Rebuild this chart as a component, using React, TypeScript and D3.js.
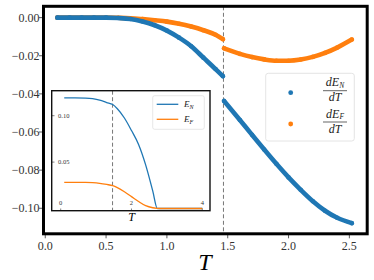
import * as d3 from "d3";
import { useEffect, useRef } from "react";

// main plot: derivatives, two branches split at the transition
const tLow = [0.1, 0.2, 0.3, 0.4, 0.5, 0.6, 0.7, 0.8, 0.9, 1.0, 1.1, 1.2, 1.3, 1.4, 1.46];
const dENLow = [0, 0, 0, 0, 0, -0.0002, -0.0007, -0.002, -0.004, -0.0068, -0.0105, -0.015, -0.021, -0.027, -0.0307];
const dEFLow = [0, 0, 0, 0, 0, -0.0001, -0.0003, -0.0008, -0.0014, -0.0021, -0.0032, -0.0047, -0.0066, -0.009, -0.0113];

const tHigh = [1.47, 1.6, 1.7, 1.8, 1.9, 2.0, 2.1, 2.2, 2.3, 2.4, 2.52];
const dENHigh = [-0.0437, -0.0537, -0.0615, -0.0692, -0.0767, -0.0838, -0.0903, -0.0963, -0.1013, -0.105, -0.1078];
const dEFHigh = [-0.0161, -0.019, -0.0207, -0.0219, -0.0226, -0.0226, -0.022, -0.0206, -0.0185, -0.0157, -0.0115];

const tc = 1.465;
const xTicks = [0, 0.5, 1.0, 1.5, 2.0, 2.5];
const yTicks = [0, -0.02, -0.04, -0.06, -0.08, -0.1];

// inset: energies
const tInset = [0.1, 0.4, 0.7, 0.9, 1.1, 1.3, 1.47, 1.6, 1.8, 2.0, 2.2, 2.4, 2.6, 2.73, 2.8, 3.0, 3.5, 4.0];
const eN = [0.1193, 0.1193, 0.119, 0.1183, 0.1168, 0.1142, 0.112, 0.1075, 0.0975, 0.084, 0.069, 0.047, 0.019, 0, 0, 0, 0, 0];
const eF = [0.0281, 0.0281, 0.0281, 0.0278, 0.0271, 0.0259, 0.0246, 0.0225, 0.018, 0.0128, 0.0075, 0.003, 0.0008, 0.0002, 0, 0, 0, 0];
const insetXTicks = [0, 2, 4];
const insetYTicks = [0.05, 0.1];

const blue = "#1f77b4";
const orange = "#ff7f0e";
const serif = "'Liberation Serif', 'DejaVu Serif', serif";

export default function App() {
  const svgRef = useRef<SVGSVGElement>(null);
  const width = 374;
  const height = 280;

  useEffect(() => {
    const svg = d3.select(svgRef.current).attr("width", width).attr("height", height);
    svg.selectAll("*").remove();

    const m = { left: 43.5, right: 367.2, top: 6.3, bottom: 233.8 };
    const x = d3.scaleLinear().domain([-0.021, 2.645]).range([42.7, 367]);
    const y = d3.scaleLinear().domain([0.0061, -0.1135]).range([6, 234]);

    svg.append("rect").attr("width", width).attr("height", height).attr("fill", "white");

    // dashed transition line
    svg.append("line")
      .attr("x1", x(tc)).attr("x2", x(tc))
      .attr("y1", m.top).attr("y2", m.bottom)
      .attr("stroke", "#777").attr("stroke-width", 1).attr("stroke-dasharray", "4 2.5");

    // series, dense markers drawn as a thick band
    const series = [
      { t: tLow, v: dEFLow, c: orange },
      { t: tHigh, v: dEFHigh, c: orange },
      { t: tLow, v: dENLow, c: blue },
      { t: tHigh, v: dENHigh, c: blue },
    ];
    const line = d3.line<[number, number]>()
      .x(d => x(d[0]))
      .y(d => y(d[1]))
      .curve(d3.curveMonotoneX);
    series.forEach(s => {
      const pts = s.t.map((t, i) => [t, s.v[i]] as [number, number]);
      svg.append("path")
        .attr("d", line(pts))
        .attr("fill", "none")
        .attr("stroke", s.c)
        .attr("stroke-width", 4.6)
        .attr("stroke-linecap", "round");
      svg.append("g").selectAll("circle")
        .data(pts)
        .enter()
        .append("circle")
        .attr("cx", d => x(d[0]))
        .attr("cy", d => y(d[1]))
        .attr("r", 2.3)
        .attr("fill", s.c);
    });

    // axes ticks + labels
    const ax = svg.append("g").attr("font-family", serif).attr("fill", "#333");
    xTicks.forEach(t => {
      ax.append("line").attr("x1", x(t)).attr("x2", x(t)).attr("y1", m.bottom).attr("y2", m.bottom + 4.5)
        .attr("stroke", "#333").attr("stroke-width", 0.8);
      ax.append("text").attr("x", x(t)).attr("y", 250).attr("text-anchor", "middle")
        .attr("font-size", 12).text(t.toFixed(1));
    });
    yTicks.forEach(v => {
      ax.append("line").attr("x1", m.left - 4.5).attr("x2", m.left).attr("y1", y(v)).attr("y2", y(v))
        .attr("stroke", "#333").attr("stroke-width", 0.8);
      ax.append("text").attr("x", 39.5).attr("y", y(v)).attr("dy", "0.35em").attr("text-anchor", "end")
        .attr("font-size", 12).text(v === 0 ? "0.00" : "\u2212" + Math.abs(v).toFixed(2));
    });
    svg.append("text").attr("x", 205).attr("y", 270).attr("text-anchor", "middle")
      .attr("font-family", serif).attr("font-style", "italic").attr("font-size", 24).text("T");

    // frame
    svg.append("rect")
      .attr("x", m.left).attr("y", m.top)
      .attr("width", m.right - m.left).attr("height", m.bottom - m.top)
      .attr("fill", "none").attr("stroke", "black").attr("stroke-width", 3);

    // legend
    const lg = svg.append("g");
    lg.append("rect").attr("x", 265.7).attr("y", 73.3).attr("width", 88.6).attr("height", 67.7).attr("rx", 2.5)
      .attr("fill", "white").attr("fill-opacity", 0.8).attr("stroke", "#ddd").attr("stroke-width", 0.8);
    [{ c: blue, sub: "N", cy: 92.7 }, { c: orange, sub: "F", cy: 124 }].forEach(e => {
      lg.append("circle").attr("cx", 290.7).attr("cy", e.cy).attr("r", 2.4).attr("fill", e.c);
      const num = lg.append("text").attr("x", 335).attr("y", e.cy - 6.5).attr("text-anchor", "middle")
        .attr("font-family", serif).attr("font-style", "italic").attr("font-size", 12).attr("fill", "#222");
      num.append("tspan").text("dE");
      num.append("tspan").attr("font-size", 7.5).attr("dy", 1.8).text(e.sub);
      lg.append("line").attr("x1", 323).attr("x2", 347).attr("y1", e.cy - 2).attr("y2", e.cy - 2)
        .attr("stroke", "#222").attr("stroke-width", 0.7);
      lg.append("text").attr("x", 335).attr("y", e.cy + 8.5).attr("text-anchor", "middle")
        .attr("font-family", serif).attr("font-style", "italic").attr("font-size", 12).attr("fill", "#222")
        .text("dT");
    });

    // inset
    const ix = d3.scaleLinear().domain([-0.254, 4.218]).range([51.7, 210]);
    const iy = d3.scaleLinear().domain([0, 0.1]).range([208.5, 115.7]);
    const ins = svg.append("g");
    ins.append("rect").attr("x", 51.7).attr("y", 90.7).attr("width", 158.3).attr("height", 120)
      .attr("fill", "white");
    ins.append("line")
      .attr("x1", ix(tc)).attr("x2", ix(tc)).attr("y1", 90.7).attr("y2", 210.7)
      .attr("stroke", "#777").attr("stroke-width", 1).attr("stroke-dasharray", "4 2.5");
    const iline = d3.line<[number, number]>().x(d => ix(d[0])).y(d => iy(d[1])).curve(d3.curveMonotoneX);
    [{ v: eN, c: blue }, { v: eF, c: orange }].forEach(s => {
      ins.append("path")
        .attr("d", iline(tInset.map((t, i) => [t, s.v[i]] as [number, number])))
        .attr("fill", "none").attr("stroke", s.c).attr("stroke-width", 1.3);
    });
    insetXTicks.forEach(t => {
      ins.append("line").attr("x1", ix(t)).attr("x2", ix(t)).attr("y1", 210.7).attr("y2", 208.5)
        .attr("stroke", "#333").attr("stroke-width", 0.6);
      ins.append("text").attr("x", ix(t)).attr("y", 205).attr("text-anchor", "middle")
        .attr("font-family", serif).attr("font-size", 6.5).attr("fill", "#333").text(String(t));
    });
    insetYTicks.forEach(v => {
      ins.append("line").attr("x1", 51.7).attr("x2", 54.5).attr("y1", iy(v)).attr("y2", iy(v))
        .attr("stroke", "#333").attr("stroke-width", 0.6);
      ins.append("text").attr("x", 58).attr("y", iy(v)).attr("dy", "0.35em")
        .attr("font-family", serif).attr("font-size", 6.5).attr("fill", "#333").text(v.toFixed(2));
    });
    ins.append("rect").attr("x", 51.7).attr("y", 90.7).attr("width", 158.3).attr("height", 120)
      .attr("fill", "none").attr("stroke", "#111").attr("stroke-width", 1.4);
    ins.append("text").attr("x", 131.7).attr("y", 221).attr("text-anchor", "middle")
      .attr("font-family", serif).attr("font-style", "italic").attr("font-size", 12).text("T");

    // inset legend
    const il = ins.append("g");
    il.append("rect").attr("x", 152.7).attr("y", 95.7).attr("width", 51.6).attr("height", 33.6).attr("rx", 2)
      .attr("fill", "white").attr("stroke", "#ddd").attr("stroke-width", 0.7);
    [{ c: blue, sub: "N", yy: 104.3 }, { c: orange, sub: "F", yy: 119.3 }].forEach(e => {
      il.append("line").attr("x1", 156.7).attr("x2", 178.3).attr("y1", e.yy).attr("y2", e.yy)
        .attr("stroke", e.c).attr("stroke-width", 1.3);
      const tx = il.append("text").attr("x", 184).attr("y", e.yy + 3)
        .attr("font-family", serif).attr("font-style", "italic").attr("font-size", 9).attr("fill", "#222");
      tx.append("tspan").text("E");
      tx.append("tspan").attr("font-size", 6).attr("dy", 2).text(e.sub);
    });

    return () => {};
  }, []);

  return (
    <div style={{ position: "fixed", left: 0, top: 0, width, height, background: "white" }}>
      <svg ref={svgRef}></svg>
    </div>
  );
}
